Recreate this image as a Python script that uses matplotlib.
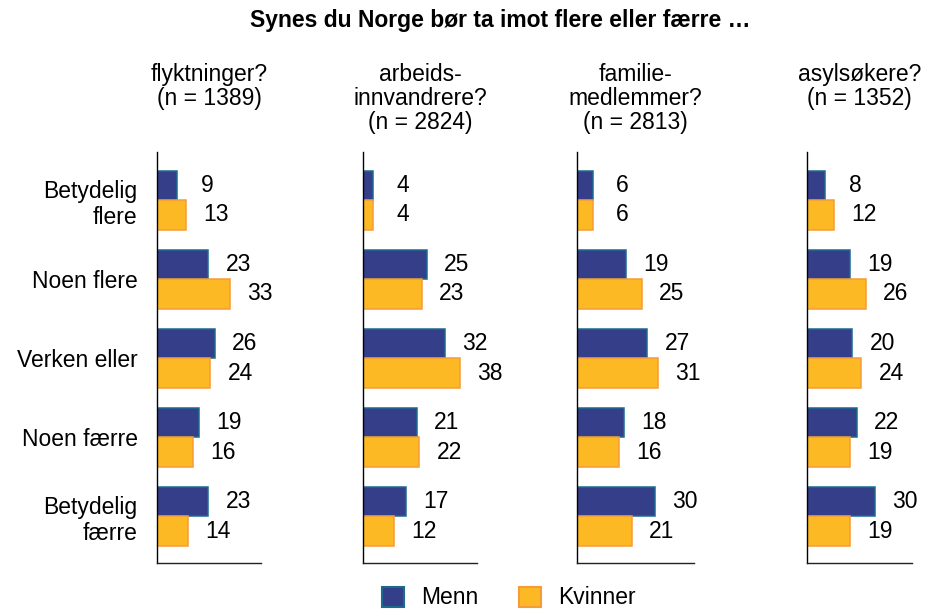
import matplotlib
matplotlib.use("Agg")
import matplotlib.pyplot as plt
from matplotlib.patches import Patch

plt.rcParams['font.family'] = ['Liberation Sans', 'DejaVu Sans']

title = "Synes du Norge bør ta imot flere eller færre …"
categories = ["Betydelig\nflere", "Noen flere", "Verken eller", "Noen færre", "Betydelig\nfærre"]
panels = ["flyktninger?\n(n = 1389)", "arbeids-\ninnvandrere?\n(n = 2824)",
          "familie-\nmedlemmer?\n(n = 2813)", "asylsøkere?\n(n = 1352)"]
menn = [
    [9, 23, 26, 19, 23],
    [4, 25, 32, 21, 17],
    [6, 19, 27, 18, 30],
    [8, 19, 20, 22, 30],
]
kvinner = [
    [13, 33, 24, 16, 14],
    [4, 23, 38, 22, 12],
    [6, 25, 31, 16, 21],
    [12, 26, 24, 19, 19],
]
series_labels = ["Menn", "Kvinner"]

W, H = 938, 609
fig = plt.figure(figsize=(W / 100, H / 100), dpi=100)

# panel geometry in pixels: (left, width, xmax)
geom = [(157, 104, 46.8), (363, 114, 44.7), (577, 117, 45.0), (807, 105, 46.3)]
top_px, bot_px = 152, 563

c_menn, e_menn = "#353E88", "#1B6B8F"
c_kv, e_kv = "#FDB924", "#F59B3A"
fs = 16.5
bh = 0.373

for i, (x0, w, xmax) in enumerate(geom):
    ax = fig.add_axes([x0 / W, 1 - bot_px / H, w / W, (bot_px - top_px) / H])
    y = list(range(len(categories)))
    ym = [v - bh / 2 for v in y]
    yk = [v + bh / 2 for v in y]
    ax.barh(ym, menn[i], height=bh, color=c_menn, edgecolor=e_menn, linewidth=1.1)
    ax.barh(yk, kvinner[i], height=bh, color=c_kv, edgecolor=e_kv, linewidth=1.1)
    for yy, v in zip(ym, menn[i]):
        ax.annotate(str(v), (v, yy), xytext=(30, 0), textcoords="offset pixels",
                    ha="center", va="center", fontsize=fs)
    for yy, v in zip(yk, kvinner[i]):
        ax.annotate(str(v), (v, yy), xytext=(30, 0), textcoords="offset pixels",
                    ha="center", va="center", fontsize=fs)
    ax.set_xlim(0, xmax)
    ax.set_ylim(4.59, -0.61)
    ax.set_xticks([])
    ax.spines['top'].set_visible(False)
    ax.spines['right'].set_visible(False)
    ax.spines['left'].set_linewidth(1.0)
    ax.spines['bottom'].set_linewidth(1.0)
    ax.spines['bottom'].set_color("#222222")
    if i == 0:
        ax.set_yticks(y)
        ax.set_yticklabels(categories, fontsize=fs, multialignment="right")
        ax.tick_params(axis="y", length=0, pad=14)
    else:
        ax.set_yticks([])
    fig.text((x0 + w / 2) / W, 1 - 63 / H, panels[i], fontsize=fs,
             ha="center", va="top", linespacing=1.05)

fig.text(500 / W, 1 - 20 / H, title, ha="center", va="center", fontsize=16.5, fontweight="bold")

handles = [Patch(facecolor=c_menn, edgecolor=e_menn, linewidth=1.5),
           Patch(facecolor=c_kv, edgecolor=e_kv, linewidth=1.5)]
fig.legend(handles, series_labels, loc="center", bbox_to_anchor=(509 / W, 1 - 598 / H),
           ncol=2, frameon=False, fontsize=fs, handlelength=0.95, handleheight=0.95,
           handletextpad=0.75, columnspacing=1.8, borderpad=0)

fig.savefig("out.png", dpi=100)
